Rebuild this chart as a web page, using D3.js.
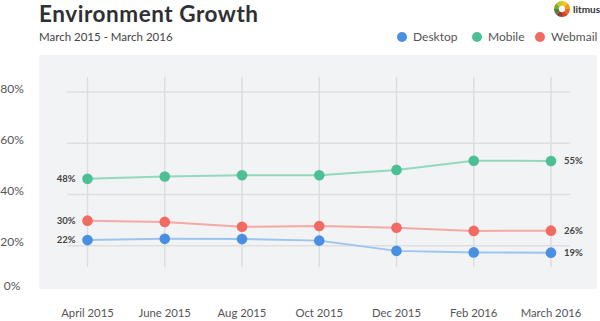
<!DOCTYPE html>
<html>
<head>
<meta charset="utf-8">
<script src="https://cdn.jsdelivr.net/npm/d3@7"></script>
<style>
  html, body { margin: 0; padding: 0; background: #fff; }
  svg { display: block; }
  text { font-family: Lato, "Open Sans", sans-serif; }
</style>
</head>
<body>
<svg id="chart" width="600" height="321"></svg>
<script>
const categories = ["April 2015", "June 2015", "Aug 2015", "Oct 2015", "Dec 2015", "Feb 2016", "March 2016"];
const desktop = [22.2, 22.7, 22.6, 22.0, 18.0, 17.4, 17.3];
const mobile  = [46.1, 47.0, 47.5, 47.5, 49.6, 53.2, 53.1];
const webmail = [29.8, 29.3, 27.4, 27.7, 27.0, 25.8, 25.9];
const seriesNames = ["Desktop", "Mobile", "Webmail"];
const firstLabels = ["22%", "48%", "30%"];
const lastLabels  = ["19%", "55%", "26%"];
const yTicks = [0, 20, 40, 60, 80];
const yTickLabels = ["0%", "20%", "40%", "60%", "80%"];
const gridTicks = [20, 40, 60, 80];

const dotColors  = ["#4a90e2", "#4dbf95", "#f26b63"];
const lineColors = ["#9cc4ef", "#93d9bf", "#f5a9a4"];
const seriesData = [desktop, mobile, webmail];

const svg = d3.select("#chart");

// panel
const panel = {x0: 39, x1: 597, y0: 55, y1: 289};
svg.append("rect").attr("x", panel.x0).attr("y", panel.y0)
  .attr("width", panel.x1 - panel.x0).attr("height", panel.y1 - panel.y0)
  .attr("fill", "#f2f3f5");

const x = d3.scalePoint().domain(categories).range([87.5, 551]);
const y = d3.scaleLinear().domain([0, 80]).range([297, 92]);

// horizontal grid
svg.append("g").selectAll("line").data(gridTicks).join("line")
  .attr("x1", 67).attr("x2", 570)
  .attr("y1", d => y(d)).attr("y2", d => y(d))
  .attr("stroke", "#dedfe2").attr("stroke-width", 1.5);

// vertical grid
svg.append("g").selectAll("line").data(categories).join("line")
  .attr("x1", d => x(d)).attr("x2", d => x(d))
  .attr("y1", 77).attr("y2", 267)
  .attr("stroke", "#dcdde0").attr("stroke-width", 1.5);

// y labels
svg.append("g").selectAll("text").data(yTicks).join("text")
  .attr("x", 12).attr("y", d => Math.min(y(d) - 3.5, panel.y1 - 3))
  .attr("dy", "0.35em").attr("text-anchor", "middle")
  .attr("font-size", 12).attr("fill", "#555")
  .text((d, i) => yTickLabels[i]);

// x labels
svg.append("g").selectAll("text").data(categories).join("text")
  .attr("x", d => x(d)).attr("y", 313).attr("dy", "0.35em")
  .attr("text-anchor", "middle").attr("font-size", 11.3).attr("fill", "#555")
  .text(d => d);

// lines and dots
const line = d3.line().x((d, i) => x(categories[i])).y(d => y(d));
seriesData.forEach((vals, s) => {
  svg.append("path").datum(vals).attr("d", line)
    .attr("fill", "none").attr("stroke", lineColors[s]).attr("stroke-width", 2);
});
seriesData.forEach((vals, s) => {
  svg.append("g").selectAll("circle").data(vals).join("circle")
    .attr("cx", (d, i) => x(categories[i])).attr("cy", d => y(d))
    .attr("r", 5.3).attr("fill", dotColors[s]);
  const n = vals.length;
  svg.append("text").attr("x", x(categories[0]) - 12).attr("y", y(vals[0]))
    .attr("dy", "0.35em").attr("text-anchor", "end")
    .attr("font-size", 9.5).attr("font-weight", 700).attr("fill", "#444")
    .text(firstLabels[s]);
  svg.append("text").attr("x", x(categories[n - 1]) + 13).attr("y", y(vals[n - 1]))
    .attr("dy", "0.35em").attr("text-anchor", "start")
    .attr("font-size", 9.5).attr("font-weight", 700).attr("fill", "#444")
    .text(lastLabels[s]);
});

// title / subtitle
svg.append("text").attr("x", 39).attr("y", 22)
  .attr("font-size", 22.5).attr("font-weight", 700).attr("fill", "#2e3033")
  .attr("letter-spacing", 0.55)
  .text("Environment Growth");
svg.append("text").attr("x", 39).attr("y", 41)
  .attr("font-size", 11.5).attr("fill", "#444")
  .text("March 2015 - March 2016");

// legend
const legendX = [402, 477, 540];
seriesNames.forEach((name, i) => {
  svg.append("circle").attr("cx", legendX[i]).attr("cy", 37).attr("r", 5).attr("fill", dotColors[i]);
  svg.append("text").attr("x", legendX[i] + 11).attr("y", 37).attr("dy", "0.35em")
    .attr("font-size", 12).attr("fill", "#555").text(name);
});

// logo
const logoColors = ["#f7c51c", "#f39a1f", "#ec6a22", "#d2412a", "#9c3a2e", "#4f7f3a", "#7faa35", "#c3c92c"];
const pie = d3.pie().value(1).sort(null);
const arc = d3.arc().innerRadius(3.2).outerRadius(8);
svg.append("g").attr("transform", "translate(562,9)")
  .selectAll("path").data(pie(logoColors)).join("path")
  .attr("d", arc).attr("fill", d => d.data);
svg.append("text").attr("x", 573).attr("y", 9).attr("dy", "0.35em")
  .attr("font-size", 10).attr("font-weight", 700).attr("fill", "#333").text("litmus");
</script>
</body>
</html>
